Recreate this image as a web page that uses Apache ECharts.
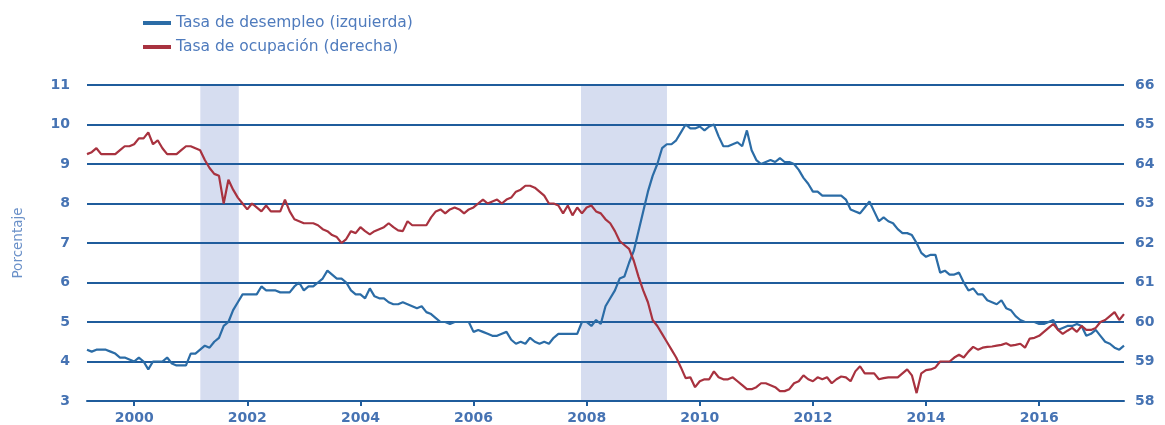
<!DOCTYPE html>
<html>
<head>
<meta charset="utf-8">
<script src="https://cdn.jsdelivr.net/npm/echarts@6/dist/echarts.min.js"></script>
<style>
html,body{margin:0;padding:0;background:#fff;}
#chart{width:1165px;height:425px;}
</style>
</head>
<body>
<div id="chart"></div>
<script>
// Monthly series, first observation March 1999, last July 2017
const startYear = 1999;
const startMonth = 3;

// Tasa de desempleo (izquierda), % — one array per calendar year
const unemp1999 = [4.3, 4.25, 4.3, 4.3, 4.3, 4.25, 4.2, 4.1, 4.1, 4.05];
const unemp2000 = [4.0, 4.1, 4.0, 3.8, 4.0, 4.0, 4.0, 4.1, 3.95, 3.9, 3.9, 3.9];
const unemp2001 = [4.2, 4.2, 4.3, 4.4, 4.35, 4.5, 4.6, 4.9, 5.0, 5.3, 5.5, 5.7];
const unemp2002 = [5.7, 5.7, 5.7, 5.9, 5.8, 5.8, 5.8, 5.75, 5.75, 5.75, 5.9, 6.0];
const unemp2003 = [5.8, 5.9, 5.9, 6.0, 6.1, 6.3, 6.2, 6.1, 6.1, 6.0, 5.8, 5.7];
const unemp2004 = [5.7, 5.6, 5.85, 5.65, 5.6, 5.6, 5.5, 5.45, 5.45, 5.5, 5.45, 5.4];
const unemp2005 = [5.35, 5.4, 5.25, 5.2, 5.1, 5.0, 5.0, 4.95, 5.0, 5.0, 5.0, 5.0];
const unemp2006 = [4.75, 4.8, 4.75, 4.7, 4.65, 4.65, 4.7, 4.75, 4.55, 4.45, 4.5, 4.45];
const unemp2007 = [4.6, 4.5, 4.45, 4.5, 4.45, 4.6, 4.7, 4.7, 4.7, 4.7, 4.7, 5.0];
const unemp2008 = [5.0, 4.9, 5.05, 4.95, 5.4, 5.6, 5.8, 6.1, 6.15, 6.5, 6.8, 7.3];
const unemp2009 = [7.8, 8.3, 8.7, 9.0, 9.4, 9.5, 9.5, 9.6, 9.8, 10.0, 9.9, 9.9];
const unemp2010 = [9.95, 9.85, 9.95, 10.0, 9.7, 9.45, 9.45, 9.5, 9.55, 9.45, 9.85, 9.35];
const unemp2011 = [9.1, 9.0, 9.05, 9.1, 9.05, 9.15, 9.05, 9.05, 9.0, 8.85, 8.65, 8.5];
const unemp2012 = [8.3, 8.3, 8.2, 8.2, 8.2, 8.2, 8.2, 8.1, 7.85, 7.8, 7.75, 7.9];
const unemp2013 = [8.05, 7.8, 7.55, 7.65, 7.55, 7.5, 7.35, 7.25, 7.25, 7.2, 7.0, 6.75];
const unemp2014 = [6.65, 6.7, 6.7, 6.25, 6.3, 6.2, 6.2, 6.25, 6.0, 5.8, 5.85, 5.7];
const unemp2015 = [5.7, 5.55, 5.5, 5.45, 5.55, 5.35, 5.3, 5.15, 5.05, 5.0, 5.0, 5.0];
const unemp2016 = [4.95, 4.95, 5.0, 5.05, 4.8, 4.85, 4.9, 4.9, 4.95, 4.9, 4.65, 4.7];
const unemp2017 = [4.8, 4.65, 4.5, 4.45, 4.35, 4.3, 4.4];

// Tasa de ocupación (derecha), %
const emp1999 = [64.25, 64.3, 64.4, 64.25, 64.25, 64.25, 64.25, 64.35, 64.45, 64.45];
const emp2000 = [64.5, 64.65, 64.65, 64.8, 64.5, 64.6, 64.4, 64.25, 64.25, 64.25, 64.35, 64.45];
const emp2001 = [64.45, 64.4, 64.35, 64.1, 63.9, 63.75, 63.7, 63.0, 63.6, 63.35, 63.15, 63.0];
const emp2002 = [62.85, 63.0, 62.9, 62.8, 62.95, 62.8, 62.8, 62.8, 63.1, 62.8, 62.6, 62.55];
const emp2003 = [62.5, 62.5, 62.5, 62.45, 62.35, 62.3, 62.2, 62.15, 62.0, 62.1, 62.3, 62.25];
const emp2004 = [62.4, 62.3, 62.22, 62.3, 62.35, 62.4, 62.5, 62.4, 62.32, 62.3, 62.55, 62.45];
const emp2005 = [62.45, 62.45, 62.45, 62.65, 62.8, 62.85, 62.75, 62.85, 62.9, 62.85, 62.75, 62.85];
const emp2006 = [62.9, 63.0, 63.1, 63.0, 63.05, 63.1, 63.0, 63.1, 63.15, 63.3, 63.35, 63.45];
const emp2007 = [63.45, 63.4, 63.3, 63.2, 63.0, 63.0, 62.95, 62.75, 62.95, 62.7, 62.9, 62.75];
const emp2008 = [62.9, 62.95, 62.8, 62.75, 62.6, 62.5, 62.3, 62.05, 61.95, 61.85, 61.55, 61.15];
const emp2009 = [60.8, 60.5, 60.05, 59.9, 59.7, 59.5, 59.3, 59.1, 58.85, 58.58, 58.6, 58.35];
const emp2010 = [58.5, 58.55, 58.55, 58.75, 58.6, 58.55, 58.55, 58.6, 58.5, 58.4, 58.3, 58.3];
const emp2011 = [58.35, 58.45, 58.45, 58.4, 58.35, 58.25, 58.25, 58.3, 58.45, 58.5, 58.65, 58.55];
const emp2012 = [58.5, 58.6, 58.55, 58.6, 58.45, 58.55, 58.62, 58.6, 58.5, 58.75, 58.88, 58.7];
const emp2013 = [58.7, 58.7, 58.55, 58.58, 58.6, 58.6, 58.6, 58.7, 58.8, 58.65, 58.2, 58.7];
const emp2014 = [58.78, 58.8, 58.85, 59.0, 59.0, 59.0, 59.1, 59.17, 59.1, 59.25, 59.37, 59.3];
const emp2015 = [59.35, 59.37, 59.38, 59.4, 59.42, 59.46, 59.4, 59.42, 59.45, 59.35, 59.58, 59.6];
const emp2016 = [59.65, 59.75, 59.85, 59.95, 59.8, 59.7, 59.78, 59.85, 59.75, 59.9, 59.8, 59.8];
const emp2017 = [59.85, 60.0, 60.05, 60.15, 60.25, 60.05, 60.2];

// Recession periods (decimal years)
const recessions = [[2001.17, 2001.85], [2007.9, 2009.42]];

// Tick labels
const yearTicks = [2000, 2002, 2004, 2006, 2008, 2010, 2012, 2014, 2016];
const leftRange = [3, 11];
const rightRange = [58, 66];

const seriesNames = ['Tasa de desempleo (izquierda)', 'Tasa de ocupación (derecha)'];

const unemp = [].concat(unemp1999, unemp2000, unemp2001, unemp2002, unemp2003, unemp2004,
  unemp2005, unemp2006, unemp2007, unemp2008, unemp2009, unemp2010, unemp2011, unemp2012,
  unemp2013, unemp2014, unemp2015, unemp2016, unemp2017);
const emp = [].concat(emp1999, emp2000, emp2001, emp2002, emp2003, emp2004, emp2005,
  emp2006, emp2007, emp2008, emp2009, emp2010, emp2011, emp2012, emp2013, emp2014,
  emp2015, emp2016, emp2017);

const dates = unemp.map((_, i) => startYear + (startMonth - 1 + i) / 12);

const gridColor = '#1f5c9c';
const labelColor = '#4673b3';
const blue = '#2b6ca6';
const red = '#a8323f';
const shade = '#d6ddf0';
const font = 'DejaVu Sans';

const chart = echarts.init(document.getElementById('chart'), null, {renderer: 'canvas'});
chart.setOption({
  animation: false,
  backgroundColor: '#fff',
  legend: {
    data: seriesNames,
    orient: 'vertical',
    left: 143,
    top: 13,
    padding: 0,
    itemGap: 4,
    itemWidth: 28,
    itemHeight: 4,
    icon: 'rect',
    textStyle: {fontFamily: font, fontSize: 15.5, lineHeight: 20, color: '#4f7bbd', padding: [0, 0, 0, 0]}
  },
  grid: {left: 87, right: 41, top: 85, bottom: 20},
  xAxis: {
    type: 'value',
    min: dates[0],
    max: dates[dates.length - 1],
    splitLine: {show: false},
    axisLine: {show: true, lineStyle: {color: gridColor, width: 2}},
    axisTick: {show: true, customValues: yearTicks, length: 5, lineStyle: {color: gridColor, width: 2}},
    axisLabel: {customValues: yearTicks, margin: 10, fontFamily: font, fontSize: 14, fontWeight: 'bold', color: labelColor,
      formatter: v => String(Math.round(v))}
  },
  yAxis: [
    {
      type: 'value', min: leftRange[0], max: leftRange[1], interval: 1, z: 1.5,
      name: 'Porcentaje', nameLocation: 'middle', nameRotate: 90, nameGap: 62,
      nameTextStyle: {fontFamily: font, fontSize: 13.5, color: '#6a90c8'},
      axisLine: {show: false}, axisTick: {show: false},
      splitLine: {show: true, lineStyle: {color: gridColor, width: 2}},
      axisLabel: {margin: 17, fontFamily: font, fontSize: 14, fontWeight: 'bold', color: labelColor}
    },
    {
      type: 'value', min: rightRange[0], max: rightRange[1], interval: 1, position: 'right',
      axisLine: {show: false}, axisTick: {show: false}, splitLine: {show: false},
      axisLabel: {margin: 11, fontFamily: font, fontSize: 14, fontWeight: 'bold', color: labelColor}
    }
  ],
  series: [
    {
      name: 'recesiones', type: 'line', data: [], z: 1, silent: true,
      markArea: {
        silent: true,
        itemStyle: {color: shade},
        data: recessions.map(r => [{xAxis: r[0]}, {xAxis: r[1]}])
      }
    },
    {
      name: seriesNames[0], type: 'line', yAxisIndex: 0, z: 3,
      data: dates.map((d, i) => [d, unemp[i]]),
      showSymbol: false, lineStyle: {color: blue, width: 2.2}, itemStyle: {color: blue}
    },
    {
      name: seriesNames[1], type: 'line', yAxisIndex: 1, z: 3,
      data: dates.map((d, i) => [d, emp[i]]),
      showSymbol: false, lineStyle: {color: red, width: 2.2}, itemStyle: {color: red}
    }
  ]
});
</script>
</body>
</html>
